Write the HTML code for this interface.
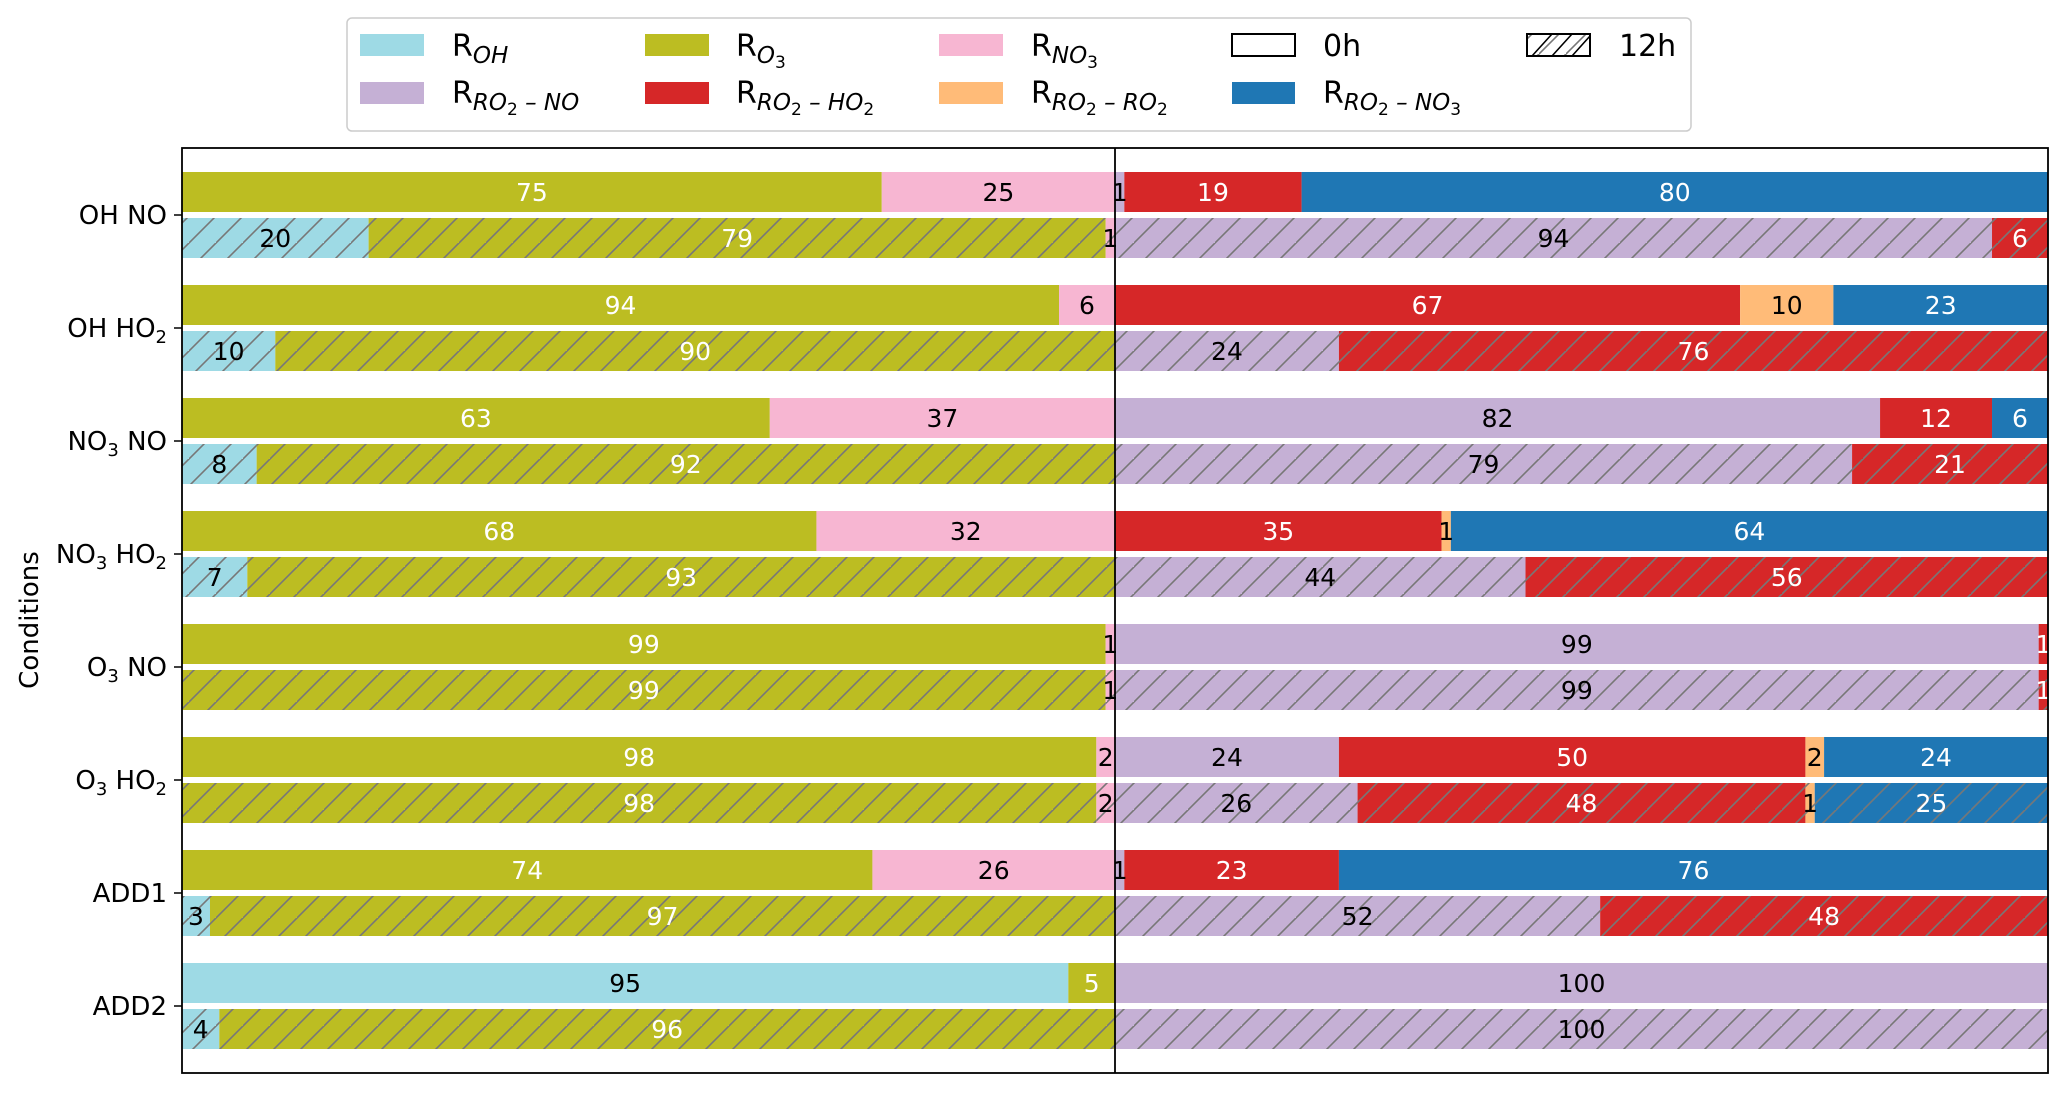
<!DOCTYPE html>
<html><head><meta charset="utf-8">
<style>
html,body{margin:0;padding:0;background:#fff;}
svg{display:block;font-family:"DejaVu Sans","Liberation Sans",sans-serif;}
</style></head>
<body>
<svg id="chart" width="2067" height="1093" viewBox="0 0 2067 1093" xmlns="http://www.w3.org/2000/svg">
<defs>
<pattern id="hatch" patternUnits="userSpaceOnUse" width="27" height="27">
<path d="M-2,29 L29,-2 M-29,29 L2,-2 M25,56 L56,25" stroke="#777" stroke-width="1.6" fill="none"/>
</pattern>
</defs>
<g id="bars"></g>
<g id="labels"></g>
<rect x="182" y="148" width="1866" height="925" fill="none" stroke="#000" stroke-width="1.8"/>
<line x1="1115" y1="148" x2="1115" y2="1073" stroke="#000" stroke-width="1.8"/>
<g id="yticks"></g>
<text x="0" y="0" transform="translate(38,620) rotate(-90)" text-anchor="middle" font-size="26">Conditions</text>
<g>
<rect x="347" y="18" width="1344" height="113" rx="5" fill="#fff" stroke="#ccc" stroke-width="1.5"/>
<g><rect x="360" y="34" width="64" height="22" fill="#9edae5"/><text x="452" y="56" font-size="30">R<tspan font-size="23" font-style="italic" dy="7">OH</tspan></text></g>
<g><rect x="645" y="34" width="64" height="22" fill="#bcbd22"/><text x="736" y="56" font-size="30">R<tspan font-size="23" font-style="italic" dy="7">O</tspan><tspan font-size="17" dy="5">3</tspan></text></g>
<g><rect x="939" y="34" width="64" height="22" fill="#f7b6d2"/><text x="1031" y="56" font-size="30">R<tspan font-size="23" font-style="italic" dy="7">NO</tspan><tspan font-size="17" dy="5">3</tspan></text></g>
<g><rect x="1232" y="34" width="63" height="22" fill="#fff" stroke="#000" stroke-width="2"/><text x="1323" y="56" font-size="30">0h</text></g>
<g><rect x="1527" y="34" width="63" height="22" fill="url(#hatch)" stroke="#000" stroke-width="2"/><path d="M1532,56 L1552,34 M1552,56 L1572,34 M1572,56 L1590,36" stroke="#000" stroke-width="1.6"/><text x="1619" y="56" font-size="30">12h</text></g>
<g><rect x="360" y="82" width="64" height="22" fill="#c5b0d5"/><text x="452" y="103" font-size="30">R<tspan font-size="23" font-style="italic" dy="7">RO</tspan><tspan font-size="17" dy="5">2</tspan><tspan font-size="23" font-style="italic" dy="-5"> – NO</tspan></text></g>
<g><rect x="645" y="82" width="64" height="22" fill="#d62728"/><text x="736" y="103" font-size="30">R<tspan font-size="23" font-style="italic" dy="7">RO</tspan><tspan font-size="17" dy="5">2</tspan><tspan font-size="23" font-style="italic" dy="-5"> – HO</tspan><tspan font-size="17" dy="5">2</tspan></text></g>
<g><rect x="939" y="82" width="64" height="22" fill="#ffbb78"/><text x="1031" y="103" font-size="30">R<tspan font-size="23" font-style="italic" dy="7">RO</tspan><tspan font-size="17" dy="5">2</tspan><tspan font-size="23" font-style="italic" dy="-5"> – RO</tspan><tspan font-size="17" dy="5">2</tspan></text></g>
<g><rect x="1232" y="82" width="63" height="22" fill="#1f77b4"/><text x="1323" y="103" font-size="30">R<tspan font-size="23" font-style="italic" dy="7">RO</tspan><tspan font-size="17" dy="5">2</tspan><tspan font-size="23" font-style="italic" dy="-5"> – NO</tspan><tspan font-size="17" dy="5">3</tspan></text></g>
</g>
</svg>
<script>
const categories = [["OH NO",""],["OH HO","2"],["NO","3"," NO"],["NO","3"," HO2"],["O","3"," NO"],["O","3"," HO2"],["ADD1",""],["ADD2",""]];
const seriesNames = ["ROH","RO3","RNO3","RO2NO","RO2HO2","RO2RO2","RO2NO3"];
const seriesColors = ["#9edae5","#bcbd22","#f7b6d2","#c5b0d5","#d62728","#ffbb78","#1f77b4"];
const whiteText = [false,true,false,false,true,false,true];
// values per condition: [ROH,RO3,RNO3,RO2NO,RO2HO2,RO2RO2,RO2NO3]
const values0h = [
 [0,75,25, 1,19,0,80],
 [0,94,6, 0,67,10,23],
 [0,63,37, 82,12,0,6],
 [0,68,32, 0,35,1,64],
 [0,99,1, 99,1,0,0],
 [0,98,2, 24,50,2,24],
 [0,74,26, 1,23,0,76],
 [95,5,0, 100,0,0,0]
];
const values12h = [
 [20,79,1, 94,6,0,0],
 [10,90,0, 24,76,0,0],
 [8,92,0, 79,21,0,0],
 [7,93,0, 44,56,0,0],
 [0,99,1, 99,1,0,0],
 [0,98,2, 26,48,1,25],
 [3,97,0, 52,48,0,0],
 [4,96,0, 100,0,0,0]
];
const NS="http://www.w3.org/2000/svg";
const xScale = v => 182 + v*(1866/200);
const yTick = i => 215 + i*113;
const gB=document.getElementById('bars'), gL=document.getElementById('labels'), gY=document.getElementById('yticks');
function drawRow(vals, i, hatched){
  const y = hatched ? yTick(i)+3 : yTick(i)-43;
  let cum=0;
  vals.forEach((v,k)=>{
    if(k===3) cum=100;
    if(v>0){
      const x0=xScale(cum), w=xScale(cum+v)-x0;
      const r=document.createElementNS(NS,'rect');
      r.setAttribute('x',x0);r.setAttribute('y',y);r.setAttribute('width',w);r.setAttribute('height',40);
      r.setAttribute('fill',seriesColors[k]);
      
      
      gB.appendChild(r);
      if(hatched){
        const h=document.createElementNS(NS,'rect');
        h.setAttribute('x',x0);h.setAttribute('y',y);h.setAttribute('width',w);h.setAttribute('height',40);
        h.setAttribute('fill','url(#hatch)');
        
        
        gB.appendChild(h);
      }
      const t=document.createElementNS(NS,'text');
      t.setAttribute('x',x0+w/2);t.setAttribute('y',y+29);
      t.setAttribute('text-anchor','middle');t.setAttribute('font-size','25');
      t.setAttribute('fill',whiteText[k]?'#fff':'#000');
      t.textContent=v;
      
      
      gL.appendChild(t);
    }
    cum+=v;
  });
}
values0h.forEach((v,i)=>drawRow(v,i,false));
values12h.forEach((v,i)=>drawRow(v,i,true));
categories.forEach((c,i)=>{
  const y=yTick(i);
  const l=document.createElementNS(NS,'line');
  l.setAttribute('x1',174);l.setAttribute('x2',182);l.setAttribute('y1',y);l.setAttribute('y2',y);
  l.setAttribute('stroke','#000');l.setAttribute('stroke-width','1.5');
  
  
  gY.appendChild(l);
  const t=document.createElementNS(NS,'text');
  t.setAttribute('x',167);t.setAttribute('y',y+9);t.setAttribute('text-anchor','end');t.setAttribute('font-size','26');
  let html;
  if(c.length===2){
    html = c[1] ? c[0]+'<tspan font-size="18" dy="6">'+c[1]+'</tspan>' : c[0];
  } else {
    const rest=c[2];
    if(rest.endsWith('HO2')) html=c[0]+'<tspan font-size="18" dy="6">'+c[1]+'</tspan><tspan dy="-6">'+rest.slice(0,-1)+'</tspan><tspan font-size="18" dy="6">2</tspan>';
    else html=c[0]+'<tspan font-size="18" dy="6">'+c[1]+'</tspan><tspan dy="-6">'+rest+'</tspan>';
  }
  t.innerHTML=html;
  
  
  gY.appendChild(t);
});
</script>
</body></html>
